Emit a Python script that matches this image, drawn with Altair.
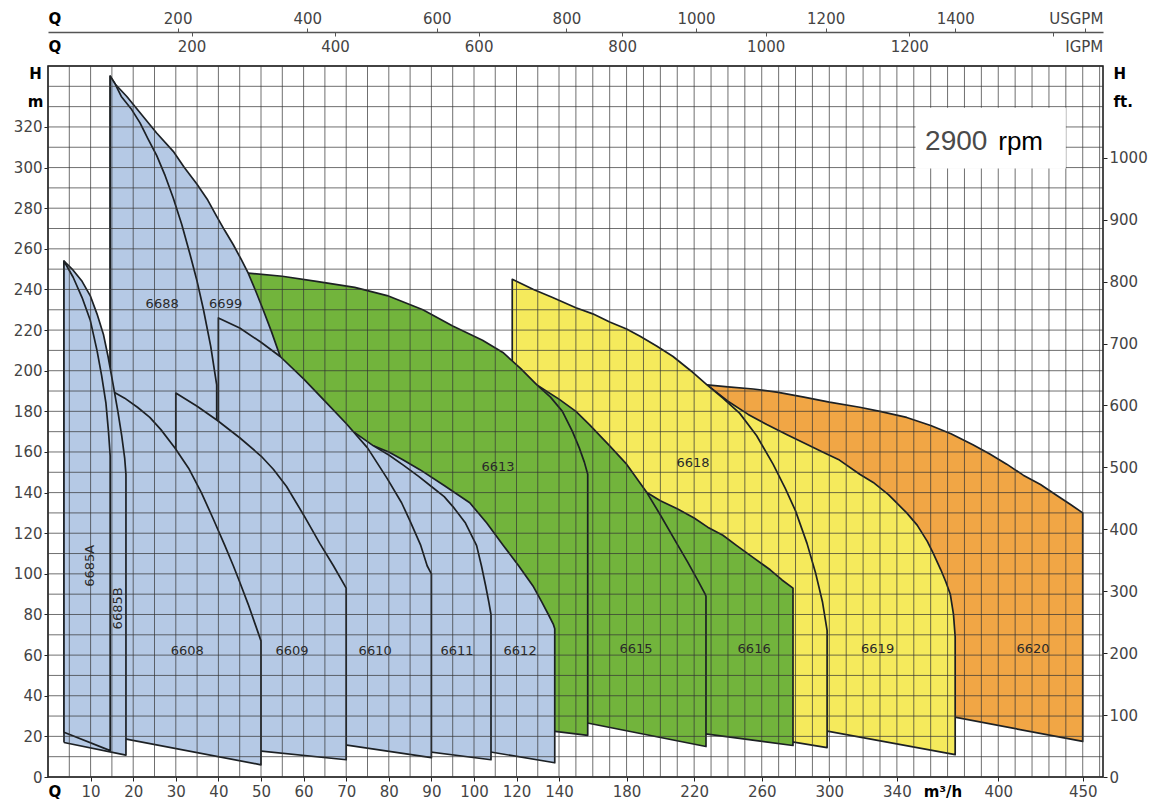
import altair as alt
import pandas as pd

# ---------------- chart values ----------------
# Q in m3/h, H in m.  Each model: top curve (Q, H) and bottom edge [H at Qmin, H at Qmax]
Q_6685A = [3.75, 5.9, 8, 9.9, 11.5, 12.6, 13.6, 14.2, 14.6]
H_6685A = [254, 246, 236, 225, 210, 197.5, 184, 170, 158]
B_6685A = [22, 13]

Q_6685B = [3.75, 5.9, 8, 9.9, 11.5, 13, 14.1, 15.3, 16.4, 17.3, 18, 18.3]
H_6685B = [254, 249.5, 244, 237, 228, 218, 207, 193, 180, 168, 157, 149]
B_6685B = [17, 10.8]

Q_6688 = [14.6, 15.8, 17.2, 19.5, 21.6, 23.5, 25.5, 27.5, 29.4, 31.4, 33.3, 35, 36.5, 38.2, 39.6]
H_6688 = [345, 341, 335, 329, 322, 314, 306, 296, 285, 272, 257.6, 244, 230, 212, 193]
B_6688 = [40, 40]

Q_6699 = [14.6, 15.8, 18.5, 22, 25.5, 29.4, 32, 34.9, 37.5, 39.6, 41.5, 43.5, 45.3, 47, 48.8, 50.5, 52.5, 54.5]
H_6699 = [345, 341, 335, 326, 317, 308, 300, 292, 284, 276, 269, 262, 255, 248, 239, 230, 219, 207]
B_6699 = [40, 40]

Q_6608 = [15, 18, 21, 23.9, 26.5, 29.8, 33, 36, 38.8, 41.5, 43.5, 45, 47, 48.5, 50]
H_6608 = [190, 186.5, 182, 177, 171, 162, 152, 140, 127, 114, 104, 96, 85, 76, 67]
B_6608 = [20, 6]

Q_6609 = [30, 35, 39.7, 45, 50, 52.9, 56, 60, 63.8, 67, 70]
H_6609 = [189, 182.5, 175.6, 167, 158, 151.5, 143, 129, 115, 104, 93]
B_6609 = [17, 8.5]

Q_6610 = [40, 45, 50, 54.5, 60, 65, 70, 75, 79.6, 83, 85, 87.5, 89, 90]
H_6610 = [226, 221, 214, 207, 196, 185, 174, 162, 147, 135, 126, 114, 104, 100]
B_6610 = [25, 9.5]

Q_6611 = [72, 76.4, 80, 83.4, 87, 90, 93, 95.1, 98, 101.2, 103.5, 105.5, 107, 108]
H_6611 = [169.5, 163, 158.5, 153.5, 148, 143, 138, 133, 125, 114, 104, 94, 86, 80]
B_6611 = [17, 8.5]

Q_6612 = [76.4, 80, 83.4, 87.3, 93, 99, 106, 113.8, 121, 128, 132, 135, 137.4, 138]
H_6612 = [163, 160, 156, 151.3, 143.5, 135, 125, 114, 104, 93.6, 86, 80, 75, 73]
B_6612 = [22, 7]

Q_6613 = [47, 55, 63, 72, 79.6, 88, 95, 104, 113.6, 122, 129.6, 136, 142, 148, 152, 155, 157]
H_6613 = [248, 246.5, 244, 241, 237, 230, 222, 215, 209, 201, 193, 187, 180, 170, 162, 155, 149]
B_6613 = [41, 20.5]

Q_6615 = [129.6, 140, 150, 158, 170, 180, 192, 200, 209.7, 216, 222, 226.5, 227]
H_6615 = [193, 186, 180, 173.5, 163, 154, 140, 129, 115, 106, 97, 90, 89]
B_6615 = [31.5, 15]

Q_6616 = [192, 200, 210, 220, 228, 237, 245, 255, 265, 272, 278.5]
H_6616 = [140, 136, 132, 127.5, 123, 119, 114, 108, 102, 97, 93]
B_6616 = [25, 15.5]

Q_6618 = [118, 128, 137, 150, 160, 170, 180, 188, 198, 207.5, 218, 227.6, 237, 247, 257, 266.7, 274, 280, 286.8, 292, 296, 298.7]
H_6618 = [245, 240, 236, 231, 228, 224, 220.5, 217, 212, 207, 200, 193, 186.5, 179, 168, 154, 142, 131, 115, 100, 86, 72]
B_6618 = [40, 14.5]

Q_6619 = [227.6, 240, 252, 263, 275, 286, 296, 306, 318, 326, 335, 345.8, 352, 358, 361.6, 366, 369, 371.6, 373.5, 374.5]
H_6619 = [193, 185, 178.5, 173.5, 168.5, 164, 160, 156, 149, 145, 139, 130, 124, 116, 110, 102, 96, 90, 80, 69]
B_6619 = [33.4, 11]

Q_6620 = [227.6, 240, 255, 269, 285, 300, 318, 330, 345.8, 360, 372, 385, 395, 405, 414.8, 425, 434.7, 443, 450]
H_6620 = [193, 192, 191, 189.5, 187, 184.5, 182, 180, 177, 173, 169, 163.6, 159, 154, 148.6, 144, 138.6, 134, 130]
B_6620 = [52.6, 17.5]

# model labels
LBL_TEXT = ["6688", "6699", "6608", "6609", "6610", "6611", "6612", "6613", "6615", "6616", "6618", "6619", "6620"]
LBL_Q = [26.8, 41.7, 32.7, 57.3, 76.8, 96, 121.7, 111.3, 185.6, 255.5, 219.3, 328.6, 420.6]
LBL_H = [233, 233, 62, 62, 62, 62, 62, 152.5, 63, 63, 154.4, 63, 63]
ROT_TEXT = ["6685A", "6685B"]
ROT_Q = [9.9, 16.5]
ROT_H = [104, 83]

# speed box
RPM_BOX_Q = [351, 440]
RPM_BOX_H = [299.5, 329.5]
RPM_TEXT = ["2900", "rpm"]
RPM_Q = [356.7, 400]
RPM_H = [308.8, 308.8]

# axes
Q_TICKS = [0, 10, 20, 30, 40, 50, 60, 70, 80, 90, 100, 120, 140, 180, 220, 260, 300, 340, 367, 400, 450]
H_TICKS = [0, 20, 40, 60, 80, 100, 120, 140, 160, 180, 200, 220, 240, 260, 280, 300, 320]
FT_TICKS = [0, 100, 200, 300, 400, 500, 600, 700, 800, 900, 1000]
USGPM_TICKS = [0, 200, 400, 600, 800, 1000, 1200, 1400, 1600]
IGPM_TICKS = [0, 200, 400, 600, 800, 1000, 1200, 1400]
GRID_Q = list(range(0, 101, 5)) + [110, 120, 130, 140] + list(range(150, 461, 10))
GRID_H = list(range(0, 351, 10))

# scale geometry
W, HGT = 1055, 711
TOP_OFF = 34
Q_DOMAIN = [0, 100, 140, 462]
Q_RANGE = [0, 426, 511, 1055]
H_MAX = 350
FT_MAX = 350 * 3.28084
USGPM_MAX = 1628
IGPM_MAX = 1470

BLUE, GREEN, YELLOW, ORANGE = "#b5c9e5", "#72b43c", "#f5ea5c", "#f1a645"
OUTLINE = "#1c2024"
FONT = "DejaVu Sans"
LBL_SIZE = 15

REGIONS = [
    (Q_6620, H_6620, B_6620, ORANGE),
    (Q_6619, H_6619, B_6619, YELLOW),
    (Q_6618, H_6618, B_6618, YELLOW),
    (Q_6616, H_6616, B_6616, GREEN),
    (Q_6615, H_6615, B_6615, GREEN),
    (Q_6613, H_6613, B_6613, GREEN),
    (Q_6699, H_6699, B_6699, BLUE),
    (Q_6688, H_6688, B_6688, BLUE),
    (Q_6612, H_6612, B_6612, BLUE),
    (Q_6611, H_6611, B_6611, BLUE),
    (Q_6610, H_6610, B_6610, BLUE),
    (Q_6609, H_6609, B_6609, BLUE),
    (Q_6608, H_6608, B_6608, BLUE),
    (Q_6685B, H_6685B, B_6685B, BLUE),
    (Q_6685A, H_6685A, B_6685A, BLUE),
]

# ---------------- encodings ----------------
SPECIAL_Q = "datum.value == 0 || datum.value == 367"
x_axis = alt.Axis(
    orient="bottom", values=Q_TICKS, title=None, grid=False, domain=False,
    labelExpr="datum.value == 0 ? 'Q' : datum.value == 367 ? 'm³/h' : datum.label",
    labelFontWeight={"condition": {"test": SPECIAL_Q, "value": "bold"}, "value": "normal"},
    labelColor={"condition": {"test": SPECIAL_Q, "value": "#000000"}, "value": "#444444"},
    labelAlign={"condition": {"test": "datum.value == 0", "value": "left"}, "value": "center"},
    tickOpacity={"condition": {"test": SPECIAL_Q, "value": 0}, "value": 1},
    tickSize=4, tickColor="#222222", labelPadding=3, labelFont=FONT, labelFontSize=LBL_SIZE,
    labelOverlap=False, labelBound=False, labelFlush=False,
)
y_axis = alt.Axis(
    orient="left", values=H_TICKS, title=["H", "m"], titleAngle=0, titleX=-13, titleY=0,
    titleAlign="center", titleBaseline="top", titleLineHeight=28, titleFontWeight="bold",
    titleFontSize=15, titleFont=FONT, titleColor="#000000",
    grid=False, domain=False, tickSize=4, tickColor="#222222", labelPadding=2,
    labelFont=FONT, labelFontSize=LBL_SIZE, labelColor="#444444",
    labelOverlap=False, labelBound=False, labelFlush=False,
)
Q_SCALE = alt.Scale(domain=Q_DOMAIN, range=Q_RANGE, nice=False, zero=False)
H_SCALE = alt.Scale(domain=[0, H_MAX], nice=False, zero=False)


def xq(field="q"):
    return alt.X(f"{field}:Q", scale=Q_SCALE, axis=x_axis)


def yh(field="h"):
    return alt.Y(f"{field}:Q", scale=H_SCALE, axis=y_axis)


layers = []
for qs, hs, bot, col in REGIONS:
    pq = [qs[0]] + list(qs) + [qs[-1], qs[0]]
    ph = [bot[0]] + list(hs) + [bot[1], bot[0]]
    df = pd.DataFrame({"q": pq, "h": ph, "i": list(range(len(pq)))})
    layers.append(
        alt.Chart(df).mark_line(fill=col, stroke=OUTLINE, strokeWidth=1.7, strokeJoin="round")
        .encode(x=xq(), y=yh(), order="i:Q")
    )

grid_v = alt.Chart(pd.DataFrame({"q": GRID_Q})).mark_rule(
    color="#333333", strokeWidth=1, opacity=0.7).encode(x=xq())
grid_h = alt.Chart(pd.DataFrame({"h": GRID_H})).mark_rule(
    color="#333333", strokeWidth=1, opacity=0.7).encode(y=yh())

labels = alt.Chart(pd.DataFrame({"q": LBL_Q, "h": LBL_H, "t": LBL_TEXT})).mark_text(
    font=FONT, fontSize=13, color="#2a2a2a", align="center", baseline="middle"
).encode(x=xq(), y=yh(), text="t:N")

rot_labels = alt.Chart(pd.DataFrame({"q": ROT_Q, "h": ROT_H, "t": ROT_TEXT})).mark_text(
    font=FONT, fontSize=13, color="#2a2a2a", align="center", baseline="middle", angle=270
).encode(x=xq(), y=yh(), text="t:N")

rpm_box = alt.Chart(pd.DataFrame({"q": [RPM_BOX_Q[0]], "q2": [RPM_BOX_Q[1]],
                                  "h": [RPM_BOX_H[0]], "h2": [RPM_BOX_H[1]]})).mark_rect(
    fill="white").encode(x=xq(), x2="q2:Q", y=yh(), y2="h2:Q")

rpm_num = alt.Chart(pd.DataFrame({"q": [RPM_Q[0]], "h": [RPM_H[0]], "t": [RPM_TEXT[0]]})).mark_text(
    font="Liberation Sans", fontSize=28, color="#4a4a4a", align="left", baseline="alphabetic"
).encode(x=xq(), y=yh(), text="t:N")
rpm_unit = alt.Chart(pd.DataFrame({"q": [RPM_Q[1]], "h": [RPM_H[1]], "t": [RPM_TEXT[1]]})).mark_text(
    font="Liberation Sans", fontSize=26, color="#000000", align="left", baseline="alphabetic"
).encode(x=xq(), y=yh(), text="t:N")

main = alt.layer(*layers, grid_v, grid_h, labels, rot_labels, rpm_box, rpm_num, rpm_unit)

# ---------------- secondary axes ----------------
usgpm = alt.Chart(pd.DataFrame({"usgpm": [0, USGPM_MAX]})).mark_point(opacity=0).encode(
    x=alt.X("usgpm:Q", scale=alt.Scale(domain=[0, USGPM_MAX], nice=False, zero=False),
            axis=alt.Axis(
                orient="top", offset=TOP_OFF, values=USGPM_TICKS, title=None, grid=False, format="d",
                domain=True, domainColor="#555555", domainWidth=1.5,
                tickSize=4, tickColor="#555555",
                labelExpr="datum.value == 0 ? 'Q' : datum.value == 1600 ? 'USGPM' : datum.label",
                labelAlign={"condition": [{"test": "datum.value == 0", "value": "left"},
                                          {"test": "datum.value == 1600", "value": "right"}],
                            "value": "center"},
                labelOffset={"condition": {"test": "datum.value == 1600", "value": 18}, "value": 0},
                labelFontWeight={"condition": {"test": "datum.value == 0", "value": "bold"}, "value": "normal"},
                labelColor={"condition": {"test": "datum.value == 0", "value": "#000000"}, "value": "#444444"},
                tickOpacity={"condition": {"test": "datum.value == 0", "value": 0}, "value": 1},
                labelPadding=2, labelFont=FONT, labelFontSize=LBL_SIZE,
                labelOverlap=False, labelBound=False, labelFlush=False))
)

igpm = alt.Chart(pd.DataFrame({"igpm": [0, IGPM_MAX]})).mark_point(opacity=0).encode(
    x=alt.X("igpm:Q", scale=alt.Scale(domain=[0, IGPM_MAX], nice=False, zero=False),
            axis=alt.Axis(
                orient="bottom", offset=-(HGT + TOP_OFF), values=IGPM_TICKS, title=None, grid=False,
                format="d", domain=False, tickSize=4, tickColor="#555555",
                labelExpr="datum.value == 0 ? 'Q' : datum.value == 1400 ? 'IGPM' : datum.label",
                labelAlign={"condition": [{"test": "datum.value == 0", "value": "left"},
                                          {"test": "datum.value == 1400", "value": "right"}],
                            "value": "center"},
                labelOffset={"condition": {"test": "datum.value == 1400", "value": 50}, "value": 0},
                labelFontWeight={"condition": {"test": "datum.value == 0", "value": "bold"}, "value": "normal"},
                labelColor={"condition": {"test": "datum.value == 0", "value": "#000000"}, "value": "#444444"},
                tickOpacity={"condition": {"test": "datum.value == 0", "value": 0}, "value": 1},
                labelPadding=3, labelFont=FONT, labelFontSize=LBL_SIZE,
                labelOverlap=False, labelBound=False, labelFlush=False))
)

feet = alt.Chart(pd.DataFrame({"ft": [0, FT_MAX]})).mark_point(opacity=0).encode(
    y=alt.Y("ft:Q", scale=alt.Scale(domain=[0, FT_MAX], nice=False, zero=False),
            axis=alt.Axis(
                orient="right", values=FT_TICKS, title=["H", "ft."], titleAngle=0, titleX=10, titleY=0,
                titleAlign="left", titleBaseline="top", titleLineHeight=28, titleFontWeight="bold",
                titleFontSize=15, titleFont=FONT, titleColor="#000000", format="d",
                grid=False, domain=False, tickSize=4, tickColor="#222222", labelPadding=2,
                labelFont=FONT, labelFontSize=LBL_SIZE, labelColor="#444444",
                labelOverlap=False, labelBound=False, labelFlush=False))
)

chart = alt.layer(main, usgpm, igpm, feet).resolve_scale(
    x="independent", y="independent"
).properties(
    width=W, height=HGT,
    autosize=alt.AutoSizeParams(type="none"),
    padding={"left": 40, "top": 58, "right": 46, "bottom": 28},
    background="white",
).configure_view(stroke="#111111", strokeWidth=1.5)

chart.save("out.html", embed_options={"renderer": "svg", "actions": False})
